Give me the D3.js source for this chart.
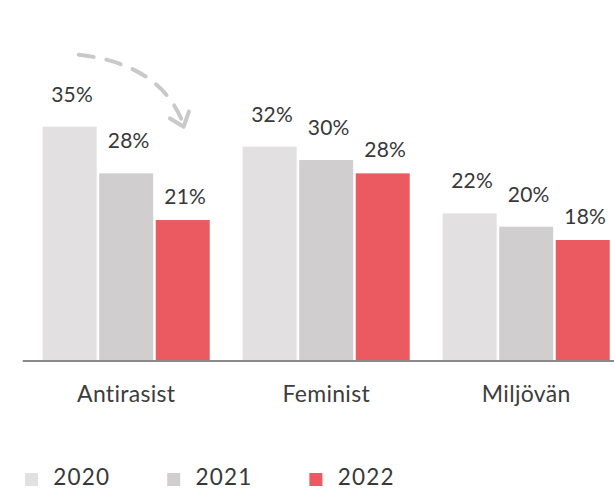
<!DOCTYPE html>
<html>
<head>
<meta charset="utf-8">
<script src="https://cdn.jsdelivr.net/npm/d3@7"></script>
<style>
  html, body { margin: 0; padding: 0; background: #ffffff; }
  svg { display: block; }
  text { font-family: Lato, "Open Sans", sans-serif; }
</style>
</head>
<body>
<div id="chart"></div>
<script>
// Share of respondents per label and year (percent)
const categories = ["Antirasist", "Feminist", "Miljövän"];
const years = ["2020", "2021", "2022"];
const values2020 = [35, 32, 22];
const values2021 = [28, 30, 20];
const values2022 = [21, 28, 18];
const seriesValues = [values2020, values2021, values2022];
const colors = ["#e2e0e1", "#d0cecf", "#eb5a61"];

const width = 614, height = 490;
const baseY = 360;

const svg = d3.select("#chart").append("svg")
  .attr("width", width)
  .attr("height", height);

// Group scale: three groups of 200px step, bars 54px wide
const x0 = d3.scaleBand()
  .domain(categories)
  .range([9.7, 642.7])
  .paddingInner(0.165)
  .paddingOuter(0.165);

const x1 = d3.scaleBand()
  .domain(years)
  .range([0, x0.bandwidth()])
  .paddingInner(0.045);

const y = d3.scaleLinear()
  .domain([0, 35])
  .range([baseY, 126.7]);

const rows = categories.map((c, i) => ({
  category: c,
  bars: years.map((yr, j) => ({ year: yr, idx: j, value: seriesValues[j][i] }))
}));

const groups = svg.selectAll("g.group")
  .data(rows)
  .join("g")
  .attr("class", "group")
  .attr("transform", d => `translate(${x0(d.category)},0)`);

groups.selectAll("rect")
  .data(d => d.bars)
  .join("rect")
  .attr("x", d => x1(d.year))
  .attr("y", d => y(d.value))
  .attr("width", x1.bandwidth())
  .attr("height", d => y(0) - y(d.value))
  .attr("fill", d => colors[d.idx]);

// Value labels above bars
groups.selectAll("text.value")
  .data(d => d.bars)
  .join("text")
  .attr("class", "value")
  .attr("x", d => x1(d.year) + x1.bandwidth() / 2 + 2.5)
  .attr("y", d => y(d.value) - (d.idx === 2 ? 16.5 : 25))
  .attr("text-anchor", "middle")
  .attr("font-size", 21)
  .attr("letter-spacing", 0.3)
  .attr("fill", "#383838")
  .text(d => d.value + "%");

// Baseline axis
const xAxis = d3.axisBottom(x0).tickSize(0).tickPadding(0);
const axisG = svg.append("g")
  .attr("transform", `translate(0,${baseY + 1})`)
  .call(xAxis);
axisG.select(".domain")
  .attr("d", `M22.7,0H${width}`)
  .attr("stroke", "#8a8a8a")
  .attr("stroke-width", 2);
axisG.selectAll(".tick text")
  .attr("dy", null)
  .attr("y", 41)
  .attr("font-size", 23)
  .attr("letter-spacing", 0.3)
  .attr("font-family", "Lato, 'Open Sans', sans-serif")
  .attr("fill", "#3d3d3d");

// Dashed curved arrow from the 2020 bar towards the 2022 bar
const a0 = [x0(categories[0]) + x1(years[0]) + x1.bandwidth() / 2 + 9, y(values2020[0]) - 72];
const a1 = [x0(categories[0]) + x1(years[2]) + x1.bandwidth() / 2 + 1, y(values2020[0])];
const ctrl = [a1[0] - 23, a1[1] - 63];
const arrowPath = d3.path();
arrowPath.moveTo(a0[0], a0[1]);
arrowPath.quadraticCurveTo(ctrl[0], ctrl[1], a1[0], a1[1] - 2);
svg.append("path")
  .attr("d", arrowPath.toString())
  .attr("fill", "none")
  .attr("stroke", "#c9c9c9")
  .attr("stroke-width", 4)
  .attr("stroke-linecap", "round")
  .attr("stroke-dasharray", "15 13");

// Arrow head (chevron) aligned with the curve's end tangent
const ang = Math.atan2(a1[1] - ctrl[1], a1[0] - ctrl[0]);
const headLen = 16, spread = 0.68;
const h1 = [a1[0] - headLen * Math.cos(ang - spread), a1[1] - headLen * Math.sin(ang - spread)];
const h2 = [a1[0] - headLen * Math.cos(ang + spread), a1[1] - headLen * Math.sin(ang + spread)];
svg.append("path")
  .attr("d", d3.line()([h1, a1, h2]))
  .attr("fill", "none")
  .attr("stroke", "#c9c9c9")
  .attr("stroke-width", 4)
  .attr("stroke-linecap", "round")
  .attr("stroke-linejoin", "round");

// Legend
const legend = svg.append("g").attr("transform", "translate(25,473)");
const items = legend.selectAll("g")
  .data(years)
  .join("g")
  .attr("transform", (d, i) => `translate(${i * 142.2},0)`);
items.append("rect")
  .attr("width", 13)
  .attr("height", 13)
  .attr("fill", (d, i) => colors[i]);
items.append("text")
  .attr("x", 28.3)
  .attr("y", 12)
  .attr("font-size", 22.5)
  .attr("letter-spacing", 1.2)
  .attr("fill", "#383838")
  .text(d => d);
</script>
</body>
</html>
